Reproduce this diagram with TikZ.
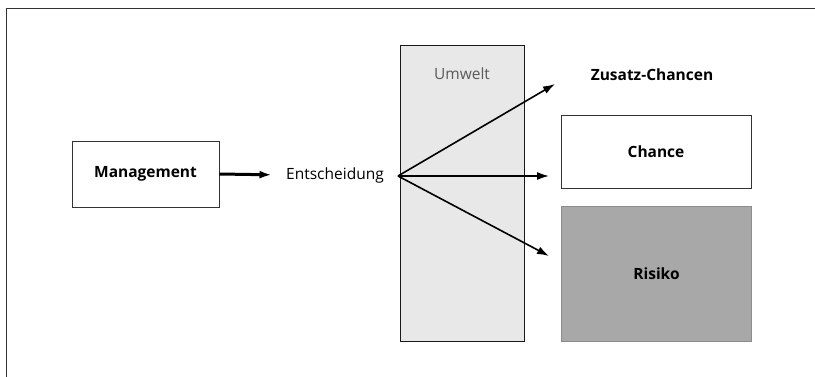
\documentclass[tikz,border=0pt]{standalone}
\usepackage{fontspec}
\setmainfont{Open Sans}
\usetikzlibrary{arrows.meta,positioning}

\begin{document}
\begin{tikzpicture}
        [x=1pt, y=-1pt, thick,
         box/.style={draw=black!80, line width=0.8pt, inner sep=0pt},
         lbl/.style={font=\fontsize{15.5}{18}\selectfont},
         blbl/.style={font=\fontsize{15.5}{18}\selectfont\bfseries},
         arr/.style={-{Latex[length=12pt,width=8pt]}, line width=1.6pt}]

        \useasboundingbox (0,0) rectangle (815,377);
        \draw[black!80, line width=0.8pt] (815,8) -- (6,8) -- (6,377);

        \node [box, minimum width=147pt, minimum height=66pt, blbl] (mgmt) at (145.5,174) {Management};
        \node [lbl] (ents) at (335,175) {Entscheidung};

        \node [box, draw=black!90, line width=1.6pt, fill=black!9, minimum width=124pt, minimum height=296pt] (umw) at (462.5,193.5) {};
        \node [lbl, text=black!65] (umwl) at (462,74) {Umwelt};

        \node [blbl] (zus) at (652,75) {Zusatz-Chancen};
        \node [box, minimum width=190pt, minimum height=73pt, blbl] (chance) at (656,151.5) {Chance};
        \node [box, draw=black!45, line width=1.2pt, fill=black!34, minimum width=190pt, minimum height=135pt, blbl] (risiko) at (656.5,274) {Risiko};

        \coordinate (src) at (398,176);
        \coordinate (zc) at (555,84);
        \coordinate (ch) at (549,176);
        \coordinate (ri) at (549,256);

        \draw[arr, line width=3pt, shorten >=11pt] (mgmt.east) -- (ents.west);
        \draw[arr] (src) -- (zc);
        \draw[arr] (src) -- (ch);
        \draw[arr] (src) -- (ri);

\end{tikzpicture}
\end{document}
